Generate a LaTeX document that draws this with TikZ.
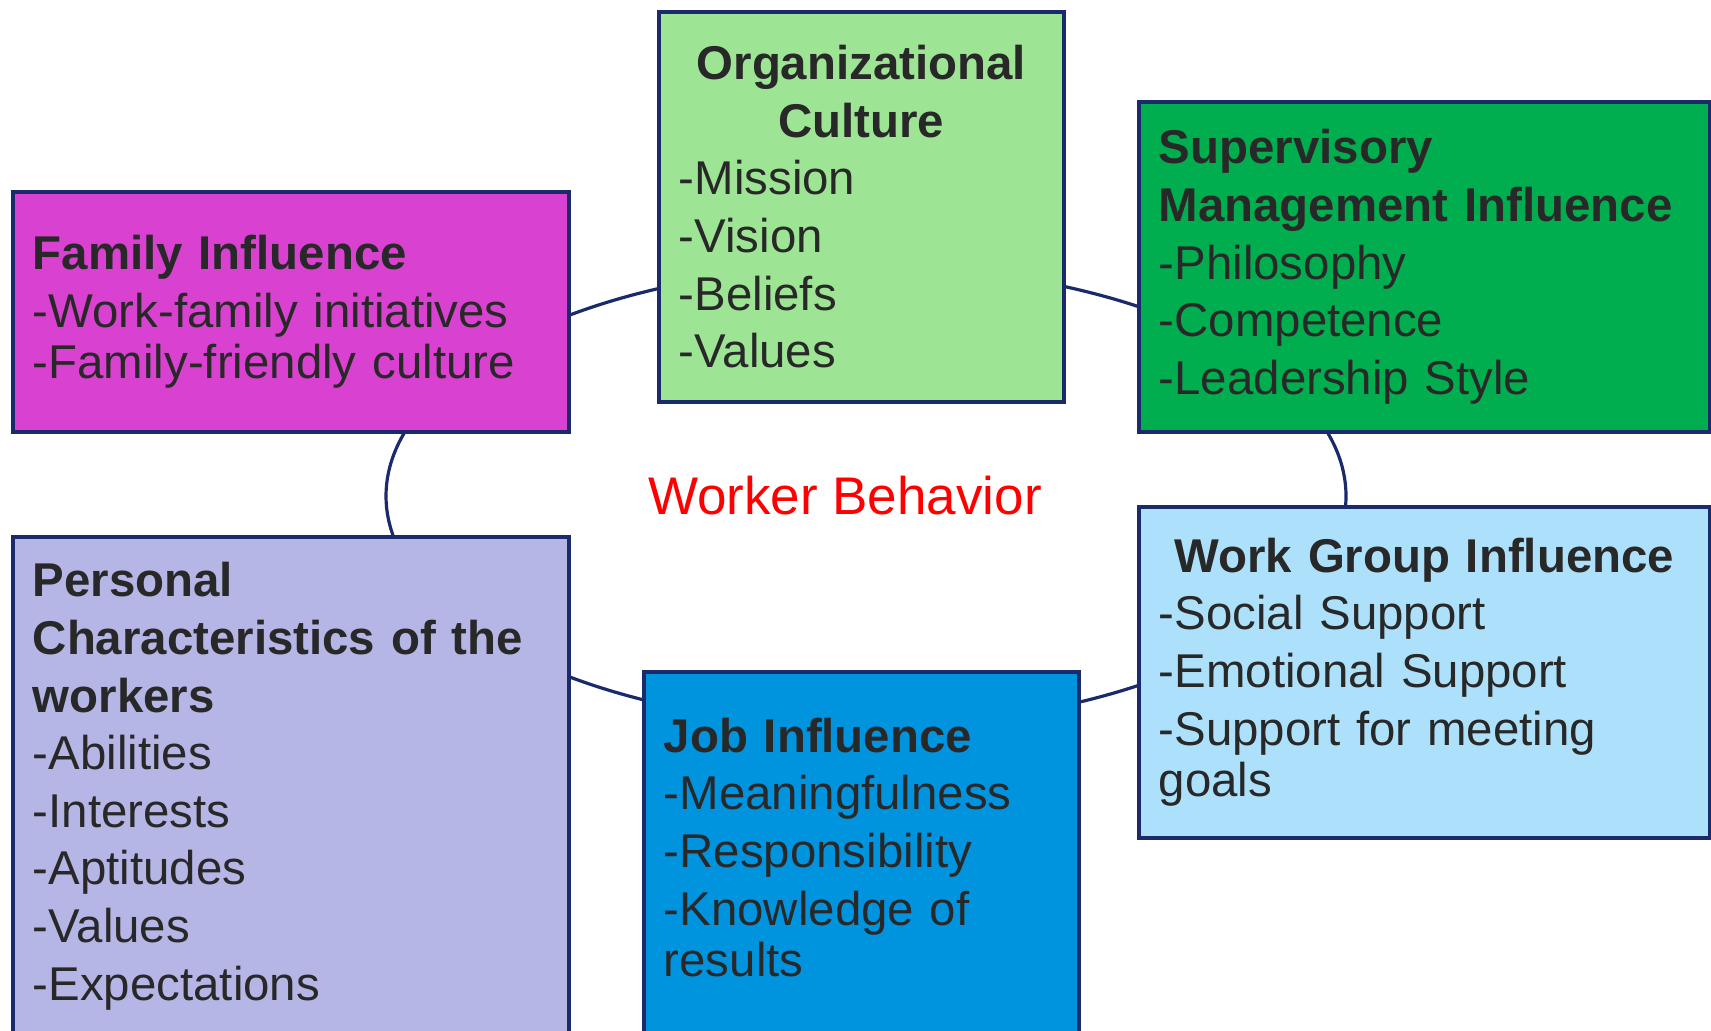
\documentclass[tikz,border=0pt]{standalone}
\usepackage{fontspec}
\setmainfont{Liberation Sans}
\usetikzlibrary{shapes.geometric}
\definecolor{edge}  {RGB}{26, 42, 106}
\definecolor{ink}   {RGB}{40, 40, 40}
\definecolor{orgc}  {RGB}{157, 229, 149}
\definecolor{famc}  {RGB}{217, 66, 209}
\definecolor{supc}  {RGB}{0, 174, 80}
\definecolor{persc} {RGB}{181, 181, 230}
\definecolor{jobc}  {RGB}{0, 148, 223}
\definecolor{wgc}   {RGB}{173, 225, 251}
\newcommand{\bodyfont}{\fontsize{23.7}{28.8}\selectfont}

\begin{document}
\begin{tikzpicture}[x=0.5pt, y=-0.5pt,
    ring/.style={ellipse, draw=edge, line width=1.6pt, minimum width=480pt, minimum height=230pt, inner sep=0pt},
    infobox/.style={rectangle, draw=edge, line width=1.8pt, anchor=north west, inner xsep=10pt, inner ysep=0pt, align=left, font=\bodyfont, text=ink}]
        \useasboundingbox (0,0) rectangle (1711,1030);
        % the ring that joins the six boxes
        \node[ring] (ring) at (866,496) {};
        \node[font=\fontsize{26.5}{30}\selectfont, text=red] (wb) at (845,496) {Worker Behavior};
        % boxes
        \node[infobox, fill=orgc, text width=182.5pt, minimum height=195pt] (org) at (657,10)
            {{\bfseries\centering Organizational\\Culture\par}-Mission\\-Vision\\-Beliefs\\-Values};
        \node[infobox, fill=famc, text width=258pt, minimum height=120pt] (fam) at (11,190)
            {\textbf{Family Influence}\\-Work-family initiatives\\[-3pt]-Family-friendly culture};
        \node[infobox, fill=supc, text width=265.5pt, minimum height=165pt] (sup) at (1137,100)
            {\textbf{Supervisory}\\\textbf{Management Influence}\\-Philosophy\\-Competence\\-Leadership Style};
        \node[infobox, fill=persc, text width=258pt, minimum height=249.5pt] (pers) at (11,535)
            {\textbf{Personal}\\\textbf{Characteristics of the}\\\textbf{workers}\\-Abilities\\-Interests\\-Aptitudes\\-Values\\-Expectations};
        \node[infobox, fill=jobc, text width=197.5pt, minimum height=182pt] (job) at (642,670)
            {\textbf{Job Influence}\\-Meaningfulness\\-Responsibility\\-Knowledge of\\[-3pt]results\\[-31pt]\strut};
        \node[infobox, fill=wgc, text width=265.5pt, minimum height=165.5pt] (wg) at (1137,505)
            {{\bfseries\centering Work Group Influence\par}-Social Support\\-Emotional Support\\-Support for meeting\\[-3pt]goals};
\end{tikzpicture}
\end{document}
